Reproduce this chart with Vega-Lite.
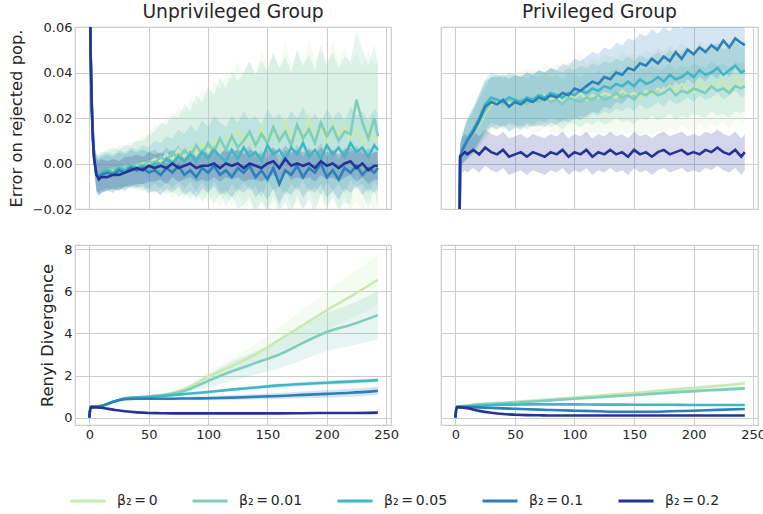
{
"$schema": "https://vega.github.io/schema/vega-lite/v6.json",
"background": "white",
"padding": {"left": 7, "top": 2, "right": 0, "bottom": 0},
"columns": 2,
"spacing": {"row": 36, "column": 50},
"bounds": "flush",
"resolve": {"scale": {"color": "shared", "x": "independent", "y": "independent"}, "legend": {"color": "shared"}},
"datasets": {
"ue": [
{"b":0,"t":0,"y":0.12,"l":0.116,"h":0.124},{"b":0,"t":1,"y":0.05,"l":0.046,"h":0.054},{"b":0,"t":2,"y":0.026,"l":0.022,"h":0.030},{"b":0,"t":3,"y":0.012,"l":0.008,"h":0.016},{"b":0,"t":4,"y":0.003,"l":-0.002,"h":0.008},{"b":0,"t":6,"y":-0.004,"l":-0.012,"h":0.004},{"b":0,"t":8,"y":-0.005,"l":-0.013,"h":0.004},{"b":0,"t":10,"y":-0.004,"l":-0.012,"h":0.005},{"b":0,"t":15,"y":-0.004,"l":-0.012,"h":0.005},{"b":0,"t":20,"y":-0.003,"l":-0.012,"h":0.006},{"b":0,"t":25,"y":-0.002,"l":-0.011,"h":0.008},{"b":0,"t":30,"y":-0.002,"l":-0.011,"h":0.008},{"b":0,"t":35,"y":-0.001,"l":-0.011,"h":0.009},{"b":0,"t":40,"y":-0.001,"l":-0.012,"h":0.010},{"b":0,"t":45,"y":0.000,"l":-0.012,"h":0.012},{"b":0,"t":50,"y":0.000,"l":-0.013,"h":0.013},{"b":0,"t":55,"y":0.002,"l":-0.012,"h":0.017},{"b":0,"t":60,"y":0.001,"l":-0.014,"h":0.016},{"b":0,"t":65,"y":0.004,"l":-0.012,"h":0.021},{"b":0,"t":70,"y":0.002,"l":-0.015,"h":0.019},{"b":0,"t":75,"y":0.006,"l":-0.012,"h":0.025},{"b":0,"t":80,"y":0.003,"l":-0.016,"h":0.023},{"b":0,"t":85,"y":0.007,"l":-0.013,"h":0.029},{"b":0,"t":90,"y":0.004,"l":-0.017,"h":0.026},{"b":0,"t":95,"y":0.009,"l":-0.013,"h":0.033},{"b":0,"t":100,"y":0.005,"l":-0.018,"h":0.030},{"b":0,"t":105,"y":0.010,"l":-0.014,"h":0.036},{"b":0,"t":110,"y":0.006,"l":-0.019,"h":0.033},{"b":0,"t":115,"y":0.012,"l":-0.014,"h":0.040},{"b":0,"t":120,"y":0.008,"l":-0.019,"h":0.037},{"b":0,"t":125,"y":0.015,"l":-0.013,"h":0.045},{"b":0,"t":130,"y":0.009,"l":-0.020,"h":0.040},{"b":0,"t":135,"y":0.013,"l":-0.017,"h":0.045},{"b":0,"t":140,"y":0.007,"l":-0.023,"h":0.039},{"b":0,"t":145,"y":0.016,"l":-0.015,"h":0.050},{"b":0,"t":150,"y":0.010,"l":-0.021,"h":0.043},{"b":0,"t":155,"y":0.014,"l":-0.017,"h":0.047},{"b":0,"t":160,"y":0.009,"l":-0.022,"h":0.042},{"b":0,"t":165,"y":0.019,"l":-0.012,"h":0.053},{"b":0,"t":170,"y":0.011,"l":-0.020,"h":0.044},{"b":0,"t":175,"y":0.015,"l":-0.016,"h":0.049},{"b":0,"t":180,"y":0.010,"l":-0.021,"h":0.043},{"b":0,"t":185,"y":0.020,"l":-0.011,"h":0.055},{"b":0,"t":190,"y":0.012,"l":-0.019,"h":0.045},{"b":0,"t":195,"y":0.016,"l":-0.015,"h":0.050},{"b":0,"t":200,"y":0.009,"l":-0.022,"h":0.042},{"b":0,"t":205,"y":0.019,"l":-0.012,"h":0.054},{"b":0,"t":210,"y":0.011,"l":-0.020,"h":0.044},{"b":0,"t":215,"y":0.017,"l":-0.014,"h":0.051},{"b":0,"t":220,"y":0.010,"l":-0.021,"h":0.043},{"b":0,"t":225,"y":0.015,"l":-0.016,"h":0.049},{"b":0,"t":230,"y":0.009,"l":-0.022,"h":0.042},{"b":0,"t":235,"y":0.016,"l":-0.015,"h":0.050},{"b":0,"t":240,"y":0.010,"l":-0.021,"h":0.043},{"b":0,"t":243,"y":0.012,"l":-0.019,"h":0.045},
{"b":0.01,"t":0,"y":0.12,"l":0.116,"h":0.124},{"b":0.01,"t":1,"y":0.05,"l":0.046,"h":0.054},{"b":0.01,"t":2,"y":0.026,"l":0.022,"h":0.030},{"b":0.01,"t":3,"y":0.012,"l":0.008,"h":0.016},{"b":0.01,"t":4,"y":0.003,"l":-0.002,"h":0.008},{"b":0.01,"t":6,"y":-0.004,"l":-0.012,"h":0.004},{"b":0.01,"t":8,"y":-0.005,"l":-0.013,"h":0.004},{"b":0.01,"t":10,"y":-0.004,"l":-0.012,"h":0.005},{"b":0.01,"t":15,"y":-0.003,"l":-0.011,"h":0.006},{"b":0.01,"t":20,"y":-0.002,"l":-0.011,"h":0.007},{"b":0.01,"t":25,"y":-0.003,"l":-0.012,"h":0.006},{"b":0.01,"t":30,"y":-0.001,"l":-0.010,"h":0.008},{"b":0.01,"t":35,"y":-0.002,"l":-0.011,"h":0.008},{"b":0.01,"t":40,"y":0.000,"l":-0.010,"h":0.010},{"b":0.01,"t":45,"y":-0.001,"l":-0.012,"h":0.010},{"b":0.01,"t":50,"y":0.001,"l":-0.011,"h":0.013},{"b":0.01,"t":55,"y":0.000,"l":-0.013,"h":0.014},{"b":0.01,"t":60,"y":0.003,"l":-0.011,"h":0.018},{"b":0.01,"t":65,"y":0.001,"l":-0.014,"h":0.017},{"b":0.01,"t":70,"y":0.005,"l":-0.011,"h":0.022},{"b":0.01,"t":75,"y":0.002,"l":-0.015,"h":0.020},{"b":0.01,"t":80,"y":0.006,"l":-0.012,"h":0.026},{"b":0.01,"t":85,"y":0.003,"l":-0.016,"h":0.023},{"b":0.01,"t":90,"y":0.008,"l":-0.012,"h":0.030},{"b":0.01,"t":95,"y":0.004,"l":-0.017,"h":0.027},{"b":0.01,"t":100,"y":0.009,"l":-0.013,"h":0.034},{"b":0.01,"t":105,"y":0.005,"l":-0.018,"h":0.030},{"b":0.01,"t":110,"y":0.011,"l":-0.013,"h":0.038},{"b":0.01,"t":115,"y":0.006,"l":-0.019,"h":0.033},{"b":0.01,"t":120,"y":0.012,"l":-0.014,"h":0.041},{"b":0.01,"t":125,"y":0.007,"l":-0.020,"h":0.036},{"b":0.01,"t":130,"y":0.010,"l":-0.018,"h":0.040},{"b":0.01,"t":135,"y":0.014,"l":-0.015,"h":0.045},{"b":0.01,"t":140,"y":0.008,"l":-0.021,"h":0.039},{"b":0.01,"t":145,"y":0.013,"l":-0.017,"h":0.045},{"b":0.01,"t":150,"y":0.009,"l":-0.021,"h":0.041},{"b":0.01,"t":155,"y":0.016,"l":-0.014,"h":0.049},{"b":0.01,"t":160,"y":0.010,"l":-0.021,"h":0.042},{"b":0.01,"t":165,"y":0.014,"l":-0.017,"h":0.047},{"b":0.01,"t":170,"y":0.008,"l":-0.023,"h":0.040},{"b":0.01,"t":175,"y":0.017,"l":-0.014,"h":0.050},{"b":0.01,"t":180,"y":0.011,"l":-0.020,"h":0.043},{"b":0.01,"t":185,"y":0.015,"l":-0.016,"h":0.048},{"b":0.01,"t":190,"y":0.009,"l":-0.022,"h":0.041},{"b":0.01,"t":195,"y":0.018,"l":-0.013,"h":0.052},{"b":0.01,"t":200,"y":0.012,"l":-0.019,"h":0.044},{"b":0.01,"t":205,"y":0.016,"l":-0.015,"h":0.049},{"b":0.01,"t":210,"y":0.010,"l":-0.021,"h":0.042},{"b":0.01,"t":215,"y":0.014,"l":-0.017,"h":0.047},{"b":0.01,"t":220,"y":0.013,"l":-0.018,"h":0.045},{"b":0.01,"t":225,"y":0.028,"l":-0.003,"h":0.058},{"b":0.01,"t":230,"y":0.018,"l":-0.013,"h":0.050},{"b":0.01,"t":235,"y":0.011,"l":-0.020,"h":0.043},{"b":0.01,"t":240,"y":0.020,"l":-0.011,"h":0.052},{"b":0.01,"t":243,"y":0.012,"l":-0.019,"h":0.044},
{"b":0.05,"t":0,"y":0.12,"l":0.116,"h":0.124},{"b":0.05,"t":1,"y":0.05,"l":0.046,"h":0.054},{"b":0.05,"t":2,"y":0.026,"l":0.022,"h":0.030},{"b":0.05,"t":3,"y":0.012,"l":0.008,"h":0.016},{"b":0.05,"t":4,"y":0.003,"l":-0.002,"h":0.008},{"b":0.05,"t":6,"y":-0.004,"l":-0.012,"h":0.004},{"b":0.05,"t":8,"y":-0.005,"l":-0.013,"h":0.003},{"b":0.05,"t":10,"y":-0.004,"l":-0.012,"h":0.004},{"b":0.05,"t":15,"y":-0.003,"l":-0.011,"h":0.005},{"b":0.05,"t":20,"y":-0.004,"l":-0.012,"h":0.004},{"b":0.05,"t":25,"y":-0.002,"l":-0.010,"h":0.006},{"b":0.05,"t":30,"y":-0.003,"l":-0.011,"h":0.005},{"b":0.05,"t":35,"y":-0.001,"l":-0.009,"h":0.007},{"b":0.05,"t":40,"y":-0.002,"l":-0.010,"h":0.006},{"b":0.05,"t":45,"y":-0.001,"l":-0.009,"h":0.008},{"b":0.05,"t":50,"y":-0.002,"l":-0.011,"h":0.007},{"b":0.05,"t":55,"y":0.000,"l":-0.009,"h":0.010},{"b":0.05,"t":60,"y":-0.001,"l":-0.011,"h":0.009},{"b":0.05,"t":65,"y":0.002,"l":-0.008,"h":0.012},{"b":0.05,"t":70,"y":0.000,"l":-0.011,"h":0.011},{"b":0.05,"t":75,"y":0.003,"l":-0.008,"h":0.015},{"b":0.05,"t":80,"y":0.001,"l":-0.011,"h":0.013},{"b":0.05,"t":85,"y":0.004,"l":-0.008,"h":0.017},{"b":0.05,"t":90,"y":0.001,"l":-0.012,"h":0.014},{"b":0.05,"t":95,"y":0.005,"l":-0.008,"h":0.019},{"b":0.05,"t":100,"y":0.002,"l":-0.012,"h":0.016},{"b":0.05,"t":105,"y":0.006,"l":-0.008,"h":0.021},{"b":0.05,"t":110,"y":0.003,"l":-0.012,"h":0.018},{"b":0.05,"t":115,"y":0.001,"l":-0.014,"h":0.016},{"b":0.05,"t":120,"y":0.006,"l":-0.009,"h":0.021},{"b":0.05,"t":125,"y":0.002,"l":-0.013,"h":0.018},{"b":0.05,"t":130,"y":0.007,"l":-0.008,"h":0.023},{"b":0.05,"t":135,"y":0.003,"l":-0.012,"h":0.019},{"b":0.05,"t":140,"y":0.005,"l":-0.010,"h":0.021},{"b":0.05,"t":145,"y":0.001,"l":-0.015,"h":0.017},{"b":0.05,"t":150,"y":0.008,"l":-0.008,"h":0.024},{"b":0.05,"t":155,"y":0.004,"l":-0.012,"h":0.020},{"b":0.05,"t":160,"y":0.006,"l":-0.010,"h":0.022},{"b":0.05,"t":165,"y":0.002,"l":-0.014,"h":0.018},{"b":0.05,"t":170,"y":0.007,"l":-0.009,"h":0.023},{"b":0.05,"t":175,"y":0.004,"l":-0.012,"h":0.020},{"b":0.05,"t":180,"y":0.009,"l":-0.007,"h":0.025},{"b":0.05,"t":185,"y":0.003,"l":-0.013,"h":0.019},{"b":0.05,"t":190,"y":0.006,"l":-0.010,"h":0.022},{"b":0.05,"t":195,"y":0.002,"l":-0.014,"h":0.018},{"b":0.05,"t":200,"y":0.008,"l":-0.008,"h":0.024},{"b":0.05,"t":205,"y":0.004,"l":-0.012,"h":0.020},{"b":0.05,"t":210,"y":0.007,"l":-0.009,"h":0.023},{"b":0.05,"t":215,"y":0.003,"l":-0.013,"h":0.019},{"b":0.05,"t":220,"y":0.009,"l":-0.007,"h":0.025},{"b":0.05,"t":225,"y":0.005,"l":-0.011,"h":0.021},{"b":0.05,"t":230,"y":0.007,"l":-0.009,"h":0.023},{"b":0.05,"t":235,"y":0.003,"l":-0.013,"h":0.019},{"b":0.05,"t":240,"y":0.008,"l":-0.008,"h":0.024},{"b":0.05,"t":243,"y":0.006,"l":-0.010,"h":0.022},
{"b":0.1,"t":0,"y":0.12,"l":0.116,"h":0.124},{"b":0.1,"t":1,"y":0.05,"l":0.046,"h":0.054},{"b":0.1,"t":2,"y":0.026,"l":0.022,"h":0.030},{"b":0.1,"t":3,"y":0.012,"l":0.008,"h":0.016},{"b":0.1,"t":4,"y":0.003,"l":-0.002,"h":0.008},{"b":0.1,"t":6,"y":-0.005,"l":-0.013,"h":0.003},{"b":0.1,"t":8,"y":-0.006,"l":-0.014,"h":0.002},{"b":0.1,"t":10,"y":-0.005,"l":-0.013,"h":0.003},{"b":0.1,"t":15,"y":-0.004,"l":-0.012,"h":0.004},{"b":0.1,"t":20,"y":-0.005,"l":-0.013,"h":0.003},{"b":0.1,"t":25,"y":-0.003,"l":-0.011,"h":0.005},{"b":0.1,"t":30,"y":-0.004,"l":-0.012,"h":0.004},{"b":0.1,"t":35,"y":-0.002,"l":-0.010,"h":0.006},{"b":0.1,"t":40,"y":-0.003,"l":-0.011,"h":0.005},{"b":0.1,"t":45,"y":-0.002,"l":-0.010,"h":0.006},{"b":0.1,"t":50,"y":-0.004,"l":-0.013,"h":0.005},{"b":0.1,"t":55,"y":-0.003,"l":-0.012,"h":0.006},{"b":0.1,"t":60,"y":-0.005,"l":-0.014,"h":0.004},{"b":0.1,"t":65,"y":-0.002,"l":-0.011,"h":0.007},{"b":0.1,"t":70,"y":-0.004,"l":-0.013,"h":0.005},{"b":0.1,"t":75,"y":-0.001,"l":-0.010,"h":0.008},{"b":0.1,"t":80,"y":-0.005,"l":-0.014,"h":0.004},{"b":0.1,"t":85,"y":-0.003,"l":-0.012,"h":0.006},{"b":0.1,"t":90,"y":-0.006,"l":-0.015,"h":0.003},{"b":0.1,"t":95,"y":-0.002,"l":-0.011,"h":0.007},{"b":0.1,"t":100,"y":-0.004,"l":-0.013,"h":0.005},{"b":0.1,"t":105,"y":-0.001,"l":-0.010,"h":0.008},{"b":0.1,"t":110,"y":-0.005,"l":-0.014,"h":0.004},{"b":0.1,"t":115,"y":-0.003,"l":-0.012,"h":0.006},{"b":0.1,"t":120,"y":-0.006,"l":-0.015,"h":0.003},{"b":0.1,"t":125,"y":-0.002,"l":-0.011,"h":0.007},{"b":0.1,"t":130,"y":-0.004,"l":-0.013,"h":0.005},{"b":0.1,"t":135,"y":-0.001,"l":-0.010,"h":0.008},{"b":0.1,"t":140,"y":-0.006,"l":-0.015,"h":0.003},{"b":0.1,"t":145,"y":-0.003,"l":-0.012,"h":0.006},{"b":0.1,"t":150,"y":-0.007,"l":-0.016,"h":0.002},{"b":0.1,"t":155,"y":-0.002,"l":-0.011,"h":0.007},{"b":0.1,"t":160,"y":-0.009,"l":-0.018,"h":0.000},{"b":0.1,"t":165,"y":-0.003,"l":-0.012,"h":0.006},{"b":0.1,"t":170,"y":-0.005,"l":-0.014,"h":0.004},{"b":0.1,"t":175,"y":-0.001,"l":-0.010,"h":0.008},{"b":0.1,"t":180,"y":-0.006,"l":-0.015,"h":0.003},{"b":0.1,"t":185,"y":-0.002,"l":-0.011,"h":0.007},{"b":0.1,"t":190,"y":-0.004,"l":-0.013,"h":0.005},{"b":0.1,"t":195,"y":0.000,"l":-0.009,"h":0.009},{"b":0.1,"t":200,"y":-0.006,"l":-0.015,"h":0.003},{"b":0.1,"t":205,"y":-0.003,"l":-0.012,"h":0.006},{"b":0.1,"t":210,"y":-0.007,"l":-0.016,"h":0.002},{"b":0.1,"t":215,"y":-0.002,"l":-0.011,"h":0.007},{"b":0.1,"t":220,"y":-0.004,"l":-0.013,"h":0.005},{"b":0.1,"t":225,"y":-0.001,"l":-0.010,"h":0.008},{"b":0.1,"t":230,"y":-0.005,"l":-0.014,"h":0.004},{"b":0.1,"t":235,"y":-0.002,"l":-0.011,"h":0.007},{"b":0.1,"t":240,"y":-0.004,"l":-0.013,"h":0.005},{"b":0.1,"t":243,"y":-0.002,"l":-0.011,"h":0.007},
{"b":0.2,"t":0,"y":0.12,"l":0.116,"h":0.124},{"b":0.2,"t":1,"y":0.05,"l":0.046,"h":0.054},{"b":0.2,"t":2,"y":0.025,"l":0.021,"h":0.029},{"b":0.2,"t":3,"y":0.010,"l":0.006,"h":0.014},{"b":0.2,"t":4,"y":0.002,"l":-0.003,"h":0.007},{"b":0.2,"t":6,"y":-0.005,"l":-0.012,"h":0.002},{"b":0.2,"t":8,"y":-0.007,"l":-0.014,"h":0.001},{"b":0.2,"t":10,"y":-0.006,"l":-0.013,"h":0.002},{"b":0.2,"t":15,"y":-0.006,"l":-0.012,"h":0.001},{"b":0.2,"t":20,"y":-0.005,"l":-0.011,"h":0.002},{"b":0.2,"t":25,"y":-0.005,"l":-0.012,"h":0.001},{"b":0.2,"t":30,"y":-0.004,"l":-0.010,"h":0.003},{"b":0.2,"t":35,"y":-0.003,"l":-0.010,"h":0.003},{"b":0.2,"t":40,"y":-0.002,"l":-0.009,"h":0.004},{"b":0.2,"t":45,"y":-0.003,"l":-0.009,"h":0.003},{"b":0.2,"t":50,"y":-0.001,"l":-0.008,"h":0.005},{"b":0.2,"t":55,"y":-0.002,"l":-0.008,"h":0.004},{"b":0.2,"t":60,"y":-0.001,"l":-0.007,"h":0.005},{"b":0.2,"t":65,"y":-0.002,"l":-0.009,"h":0.004},{"b":0.2,"t":70,"y":0.000,"l":-0.006,"h":0.006},{"b":0.2,"t":75,"y":-0.002,"l":-0.008,"h":0.004},{"b":0.2,"t":80,"y":-0.001,"l":-0.007,"h":0.006},{"b":0.2,"t":85,"y":0.000,"l":-0.006,"h":0.006},{"b":0.2,"t":90,"y":-0.002,"l":-0.008,"h":0.004},{"b":0.2,"t":95,"y":-0.001,"l":-0.007,"h":0.005},{"b":0.2,"t":100,"y":-0.001,"l":-0.008,"h":0.005},{"b":0.2,"t":105,"y":0.000,"l":-0.006,"h":0.006},{"b":0.2,"t":110,"y":-0.002,"l":-0.008,"h":0.004},{"b":0.2,"t":115,"y":0.000,"l":-0.006,"h":0.007},{"b":0.2,"t":120,"y":-0.001,"l":-0.007,"h":0.005},{"b":0.2,"t":125,"y":0.000,"l":-0.006,"h":0.006},{"b":0.2,"t":130,"y":-0.002,"l":-0.008,"h":0.004},{"b":0.2,"t":135,"y":0.000,"l":-0.007,"h":0.006},{"b":0.2,"t":140,"y":-0.001,"l":-0.007,"h":0.005},{"b":0.2,"t":145,"y":-0.002,"l":-0.008,"h":0.004},{"b":0.2,"t":150,"y":0.000,"l":-0.006,"h":0.006},{"b":0.2,"t":155,"y":0.001,"l":-0.005,"h":0.007},{"b":0.2,"t":160,"y":-0.002,"l":-0.008,"h":0.004},{"b":0.2,"t":165,"y":0.002,"l":-0.004,"h":0.008},{"b":0.2,"t":170,"y":-0.001,"l":-0.007,"h":0.005},{"b":0.2,"t":175,"y":0.000,"l":-0.006,"h":0.006},{"b":0.2,"t":180,"y":-0.001,"l":-0.007,"h":0.005},{"b":0.2,"t":185,"y":0.000,"l":-0.006,"h":0.006},{"b":0.2,"t":190,"y":-0.002,"l":-0.008,"h":0.004},{"b":0.2,"t":195,"y":0.001,"l":-0.005,"h":0.007},{"b":0.2,"t":200,"y":-0.001,"l":-0.007,"h":0.005},{"b":0.2,"t":205,"y":0.000,"l":-0.006,"h":0.006},{"b":0.2,"t":210,"y":-0.002,"l":-0.008,"h":0.004},{"b":0.2,"t":215,"y":0.000,"l":-0.006,"h":0.006},{"b":0.2,"t":220,"y":0.001,"l":-0.005,"h":0.007},{"b":0.2,"t":225,"y":-0.002,"l":-0.008,"h":0.004},{"b":0.2,"t":230,"y":0.000,"l":-0.006,"h":0.006},{"b":0.2,"t":235,"y":-0.003,"l":-0.009,"h":0.003},{"b":0.2,"t":240,"y":-0.001,"l":-0.007,"h":0.005},{"b":0.2,"t":243,"y":-0.001,"l":-0.007,"h":0.005}
],
"pe": [
{"b":0,"t":3,"y":-0.05,"l":-0.05,"h":-0.05},{"b":0,"t":4,"y":0.003,"l":-0.002,"h":0.008},{"b":0,"t":6,"y":0.006,"l":0.000,"h":0.013},{"b":0,"t":8,"y":0.008,"l":0.001,"h":0.016},{"b":0,"t":10,"y":0.010,"l":0.002,"h":0.019},{"b":0,"t":15,"y":0.013,"l":0.004,"h":0.023},{"b":0,"t":20,"y":0.017,"l":0.007,"h":0.028},{"b":0,"t":25,"y":0.022,"l":0.011,"h":0.033},{"b":0,"t":30,"y":0.026,"l":0.014,"h":0.038},{"b":0,"t":35,"y":0.027,"l":0.015,"h":0.039},{"b":0,"t":40,"y":0.028,"l":0.016,"h":0.040},{"b":0,"t":45,"y":0.026,"l":0.014,"h":0.038},{"b":0,"t":50,"y":0.028,"l":0.015,"h":0.041},{"b":0,"t":55,"y":0.027,"l":0.014,"h":0.040},{"b":0,"t":60,"y":0.029,"l":0.016,"h":0.042},{"b":0,"t":65,"y":0.027,"l":0.013,"h":0.041},{"b":0,"t":70,"y":0.028,"l":0.014,"h":0.042},{"b":0,"t":75,"y":0.030,"l":0.016,"h":0.044},{"b":0,"t":80,"y":0.028,"l":0.014,"h":0.042},{"b":0,"t":85,"y":0.029,"l":0.014,"h":0.044},{"b":0,"t":90,"y":0.027,"l":0.012,"h":0.042},{"b":0,"t":95,"y":0.030,"l":0.015,"h":0.045},{"b":0,"t":100,"y":0.029,"l":0.014,"h":0.044},{"b":0,"t":105,"y":0.031,"l":0.015,"h":0.047},{"b":0,"t":110,"y":0.028,"l":0.012,"h":0.044},{"b":0,"t":115,"y":0.030,"l":0.014,"h":0.046},{"b":0,"t":120,"y":0.029,"l":0.013,"h":0.045},{"b":0,"t":125,"y":0.031,"l":0.014,"h":0.048},{"b":0,"t":130,"y":0.030,"l":0.013,"h":0.047},{"b":0,"t":135,"y":0.029,"l":0.012,"h":0.046},{"b":0,"t":140,"y":0.032,"l":0.015,"h":0.049},{"b":0,"t":145,"y":0.030,"l":0.013,"h":0.047},{"b":0,"t":150,"y":0.031,"l":0.014,"h":0.048},{"b":0,"t":155,"y":0.029,"l":0.012,"h":0.046},{"b":0,"t":160,"y":0.032,"l":0.014,"h":0.050},{"b":0,"t":165,"y":0.030,"l":0.012,"h":0.048},{"b":0,"t":170,"y":0.033,"l":0.015,"h":0.051},{"b":0,"t":175,"y":0.031,"l":0.013,"h":0.049},{"b":0,"t":180,"y":0.034,"l":0.016,"h":0.052},{"b":0,"t":185,"y":0.032,"l":0.014,"h":0.050},{"b":0,"t":190,"y":0.035,"l":0.017,"h":0.053},{"b":0,"t":195,"y":0.033,"l":0.015,"h":0.051},{"b":0,"t":200,"y":0.031,"l":0.013,"h":0.049},{"b":0,"t":205,"y":0.036,"l":0.018,"h":0.054},{"b":0,"t":210,"y":0.033,"l":0.015,"h":0.051},{"b":0,"t":215,"y":0.035,"l":0.017,"h":0.053},{"b":0,"t":220,"y":0.034,"l":0.016,"h":0.052},{"b":0,"t":225,"y":0.037,"l":0.019,"h":0.055},{"b":0,"t":230,"y":0.033,"l":0.015,"h":0.051},{"b":0,"t":235,"y":0.038,"l":0.020,"h":0.056},{"b":0,"t":240,"y":0.035,"l":0.017,"h":0.053},{"b":0,"t":243,"y":0.036,"l":0.018,"h":0.054},
{"b":0.01,"t":3,"y":-0.05,"l":-0.05,"h":-0.05},{"b":0.01,"t":4,"y":0.003,"l":-0.002,"h":0.008},{"b":0.01,"t":6,"y":0.006,"l":0.000,"h":0.013},{"b":0.01,"t":8,"y":0.008,"l":0.001,"h":0.016},{"b":0.01,"t":10,"y":0.010,"l":0.002,"h":0.019},{"b":0.01,"t":15,"y":0.013,"l":0.004,"h":0.023},{"b":0.01,"t":20,"y":0.018,"l":0.008,"h":0.029},{"b":0.01,"t":25,"y":0.023,"l":0.012,"h":0.034},{"b":0.01,"t":30,"y":0.027,"l":0.016,"h":0.038},{"b":0.01,"t":35,"y":0.028,"l":0.017,"h":0.039},{"b":0.01,"t":40,"y":0.026,"l":0.015,"h":0.037},{"b":0.01,"t":45,"y":0.028,"l":0.017,"h":0.039},{"b":0.01,"t":50,"y":0.027,"l":0.016,"h":0.038},{"b":0.01,"t":55,"y":0.028,"l":0.017,"h":0.039},{"b":0.01,"t":60,"y":0.026,"l":0.015,"h":0.037},{"b":0.01,"t":65,"y":0.028,"l":0.017,"h":0.039},{"b":0.01,"t":70,"y":0.027,"l":0.016,"h":0.038},{"b":0.01,"t":75,"y":0.029,"l":0.018,"h":0.040},{"b":0.01,"t":80,"y":0.027,"l":0.016,"h":0.038},{"b":0.01,"t":85,"y":0.028,"l":0.017,"h":0.039},{"b":0.01,"t":90,"y":0.026,"l":0.015,"h":0.037},{"b":0.01,"t":95,"y":0.029,"l":0.018,"h":0.040},{"b":0.01,"t":100,"y":0.028,"l":0.017,"h":0.039},{"b":0.01,"t":105,"y":0.027,"l":0.016,"h":0.038},{"b":0.01,"t":110,"y":0.029,"l":0.018,"h":0.040},{"b":0.01,"t":115,"y":0.028,"l":0.017,"h":0.039},{"b":0.01,"t":120,"y":0.030,"l":0.019,"h":0.041},{"b":0.01,"t":125,"y":0.028,"l":0.017,"h":0.039},{"b":0.01,"t":130,"y":0.029,"l":0.018,"h":0.040},{"b":0.01,"t":135,"y":0.031,"l":0.020,"h":0.042},{"b":0.01,"t":140,"y":0.029,"l":0.018,"h":0.040},{"b":0.01,"t":145,"y":0.030,"l":0.019,"h":0.041},{"b":0.01,"t":150,"y":0.028,"l":0.017,"h":0.039},{"b":0.01,"t":155,"y":0.031,"l":0.020,"h":0.042},{"b":0.01,"t":160,"y":0.030,"l":0.019,"h":0.041},{"b":0.01,"t":165,"y":0.032,"l":0.021,"h":0.043},{"b":0.01,"t":170,"y":0.030,"l":0.019,"h":0.041},{"b":0.01,"t":175,"y":0.031,"l":0.020,"h":0.042},{"b":0.01,"t":180,"y":0.033,"l":0.022,"h":0.044},{"b":0.01,"t":185,"y":0.030,"l":0.019,"h":0.041},{"b":0.01,"t":190,"y":0.032,"l":0.021,"h":0.043},{"b":0.01,"t":195,"y":0.031,"l":0.020,"h":0.042},{"b":0.01,"t":200,"y":0.033,"l":0.022,"h":0.044},{"b":0.01,"t":205,"y":0.032,"l":0.021,"h":0.043},{"b":0.01,"t":210,"y":0.031,"l":0.020,"h":0.042},{"b":0.01,"t":215,"y":0.034,"l":0.023,"h":0.045},{"b":0.01,"t":220,"y":0.032,"l":0.021,"h":0.043},{"b":0.01,"t":225,"y":0.033,"l":0.022,"h":0.044},{"b":0.01,"t":230,"y":0.031,"l":0.020,"h":0.042},{"b":0.01,"t":235,"y":0.034,"l":0.023,"h":0.045},{"b":0.01,"t":240,"y":0.033,"l":0.022,"h":0.044},{"b":0.01,"t":243,"y":0.034,"l":0.023,"h":0.045},
{"b":0.05,"t":3,"y":-0.05,"l":-0.05,"h":-0.05},{"b":0.05,"t":4,"y":0.003,"l":-0.002,"h":0.008},{"b":0.05,"t":6,"y":0.006,"l":0.000,"h":0.013},{"b":0.05,"t":8,"y":0.009,"l":0.002,"h":0.017},{"b":0.05,"t":10,"y":0.011,"l":0.003,"h":0.020},{"b":0.05,"t":15,"y":0.015,"l":0.006,"h":0.025},{"b":0.05,"t":20,"y":0.020,"l":0.010,"h":0.031},{"b":0.05,"t":25,"y":0.026,"l":0.015,"h":0.037},{"b":0.05,"t":30,"y":0.029,"l":0.018,"h":0.040},{"b":0.05,"t":35,"y":0.028,"l":0.017,"h":0.039},{"b":0.05,"t":40,"y":0.027,"l":0.016,"h":0.038},{"b":0.05,"t":45,"y":0.029,"l":0.018,"h":0.040},{"b":0.05,"t":50,"y":0.028,"l":0.017,"h":0.039},{"b":0.05,"t":55,"y":0.027,"l":0.016,"h":0.038},{"b":0.05,"t":60,"y":0.029,"l":0.018,"h":0.040},{"b":0.05,"t":65,"y":0.028,"l":0.017,"h":0.039},{"b":0.05,"t":70,"y":0.030,"l":0.019,"h":0.041},{"b":0.05,"t":75,"y":0.029,"l":0.018,"h":0.040},{"b":0.05,"t":80,"y":0.031,"l":0.020,"h":0.042},{"b":0.05,"t":85,"y":0.030,"l":0.019,"h":0.041},{"b":0.05,"t":90,"y":0.029,"l":0.018,"h":0.040},{"b":0.05,"t":95,"y":0.031,"l":0.020,"h":0.042},{"b":0.05,"t":100,"y":0.030,"l":0.019,"h":0.041},{"b":0.05,"t":105,"y":0.032,"l":0.021,"h":0.043},{"b":0.05,"t":110,"y":0.031,"l":0.020,"h":0.042},{"b":0.05,"t":115,"y":0.033,"l":0.022,"h":0.044},{"b":0.05,"t":120,"y":0.032,"l":0.021,"h":0.043},{"b":0.05,"t":125,"y":0.034,"l":0.023,"h":0.045},{"b":0.05,"t":130,"y":0.033,"l":0.022,"h":0.044},{"b":0.05,"t":135,"y":0.035,"l":0.024,"h":0.046},{"b":0.05,"t":140,"y":0.034,"l":0.023,"h":0.045},{"b":0.05,"t":145,"y":0.036,"l":0.025,"h":0.047},{"b":0.05,"t":150,"y":0.034,"l":0.023,"h":0.045},{"b":0.05,"t":155,"y":0.037,"l":0.026,"h":0.048},{"b":0.05,"t":160,"y":0.035,"l":0.024,"h":0.046},{"b":0.05,"t":165,"y":0.036,"l":0.025,"h":0.047},{"b":0.05,"t":170,"y":0.038,"l":0.027,"h":0.049},{"b":0.05,"t":175,"y":0.036,"l":0.025,"h":0.047},{"b":0.05,"t":180,"y":0.039,"l":0.028,"h":0.050},{"b":0.05,"t":185,"y":0.037,"l":0.026,"h":0.048},{"b":0.05,"t":190,"y":0.038,"l":0.027,"h":0.049},{"b":0.05,"t":195,"y":0.040,"l":0.029,"h":0.051},{"b":0.05,"t":200,"y":0.038,"l":0.027,"h":0.049},{"b":0.05,"t":205,"y":0.041,"l":0.030,"h":0.052},{"b":0.05,"t":210,"y":0.039,"l":0.028,"h":0.050},{"b":0.05,"t":215,"y":0.040,"l":0.029,"h":0.051},{"b":0.05,"t":220,"y":0.042,"l":0.031,"h":0.053},{"b":0.05,"t":225,"y":0.039,"l":0.028,"h":0.050},{"b":0.05,"t":230,"y":0.041,"l":0.030,"h":0.052},{"b":0.05,"t":235,"y":0.043,"l":0.032,"h":0.054},{"b":0.05,"t":240,"y":0.040,"l":0.029,"h":0.051},{"b":0.05,"t":243,"y":0.041,"l":0.030,"h":0.052},
{"b":0.1,"t":3,"y":-0.05,"l":-0.05,"h":-0.05},{"b":0.1,"t":4,"y":0.003,"l":-0.002,"h":0.008},{"b":0.1,"t":6,"y":0.006,"l":0.000,"h":0.013},{"b":0.1,"t":8,"y":0.008,"l":0.001,"h":0.016},{"b":0.1,"t":10,"y":0.010,"l":0.002,"h":0.019},{"b":0.1,"t":15,"y":0.014,"l":0.005,"h":0.024},{"b":0.1,"t":20,"y":0.019,"l":0.009,"h":0.030},{"b":0.1,"t":25,"y":0.025,"l":0.014,"h":0.036},{"b":0.1,"t":30,"y":0.027,"l":0.016,"h":0.038},{"b":0.1,"t":35,"y":0.026,"l":0.015,"h":0.038},{"b":0.1,"t":40,"y":0.028,"l":0.017,"h":0.039},{"b":0.1,"t":45,"y":0.025,"l":0.014,"h":0.037},{"b":0.1,"t":50,"y":0.027,"l":0.016,"h":0.039},{"b":0.1,"t":55,"y":0.026,"l":0.015,"h":0.038},{"b":0.1,"t":60,"y":0.028,"l":0.017,"h":0.040},{"b":0.1,"t":65,"y":0.027,"l":0.016,"h":0.039},{"b":0.1,"t":70,"y":0.029,"l":0.017,"h":0.041},{"b":0.1,"t":75,"y":0.028,"l":0.016,"h":0.040},{"b":0.1,"t":80,"y":0.030,"l":0.018,"h":0.042},{"b":0.1,"t":85,"y":0.029,"l":0.017,"h":0.041},{"b":0.1,"t":90,"y":0.031,"l":0.019,"h":0.044},{"b":0.1,"t":95,"y":0.030,"l":0.018,"h":0.043},{"b":0.1,"t":100,"y":0.033,"l":0.020,"h":0.046},{"b":0.1,"t":105,"y":0.032,"l":0.019,"h":0.045},{"b":0.1,"t":110,"y":0.034,"l":0.021,"h":0.047},{"b":0.1,"t":115,"y":0.036,"l":0.023,"h":0.049},{"b":0.1,"t":120,"y":0.035,"l":0.022,"h":0.048},{"b":0.1,"t":125,"y":0.038,"l":0.025,"h":0.051},{"b":0.1,"t":130,"y":0.037,"l":0.024,"h":0.050},{"b":0.1,"t":135,"y":0.040,"l":0.027,"h":0.053},{"b":0.1,"t":140,"y":0.039,"l":0.026,"h":0.052},{"b":0.1,"t":145,"y":0.042,"l":0.029,"h":0.055},{"b":0.1,"t":150,"y":0.041,"l":0.028,"h":0.054},{"b":0.1,"t":155,"y":0.044,"l":0.031,"h":0.057},{"b":0.1,"t":160,"y":0.043,"l":0.030,"h":0.056},{"b":0.1,"t":165,"y":0.046,"l":0.033,"h":0.059},{"b":0.1,"t":170,"y":0.044,"l":0.031,"h":0.057},{"b":0.1,"t":175,"y":0.047,"l":0.034,"h":0.060},{"b":0.1,"t":180,"y":0.045,"l":0.032,"h":0.058},{"b":0.1,"t":185,"y":0.049,"l":0.036,"h":0.062},{"b":0.1,"t":190,"y":0.046,"l":0.033,"h":0.059},{"b":0.1,"t":195,"y":0.050,"l":0.037,"h":0.063},{"b":0.1,"t":200,"y":0.048,"l":0.035,"h":0.061},{"b":0.1,"t":205,"y":0.051,"l":0.038,"h":0.064},{"b":0.1,"t":210,"y":0.049,"l":0.036,"h":0.062},{"b":0.1,"t":215,"y":0.052,"l":0.039,"h":0.065},{"b":0.1,"t":220,"y":0.050,"l":0.037,"h":0.063},{"b":0.1,"t":225,"y":0.054,"l":0.041,"h":0.067},{"b":0.1,"t":230,"y":0.051,"l":0.038,"h":0.064},{"b":0.1,"t":235,"y":0.055,"l":0.042,"h":0.068},{"b":0.1,"t":240,"y":0.053,"l":0.040,"h":0.066},{"b":0.1,"t":243,"y":0.052,"l":0.039,"h":0.065},
{"b":0.2,"t":3,"y":-0.05,"l":-0.05,"h":-0.05},{"b":0.2,"t":4,"y":0.003,"l":-0.003,"h":0.009},{"b":0.2,"t":6,"y":0.004,"l":-0.004,"h":0.012},{"b":0.2,"t":8,"y":0.005,"l":-0.003,"h":0.013},{"b":0.2,"t":10,"y":0.004,"l":-0.004,"h":0.012},{"b":0.2,"t":15,"y":0.006,"l":-0.002,"h":0.014},{"b":0.2,"t":20,"y":0.004,"l":-0.004,"h":0.012},{"b":0.2,"t":25,"y":0.007,"l":-0.001,"h":0.015},{"b":0.2,"t":30,"y":0.005,"l":-0.003,"h":0.013},{"b":0.2,"t":35,"y":0.004,"l":-0.004,"h":0.012},{"b":0.2,"t":40,"y":0.006,"l":-0.002,"h":0.014},{"b":0.2,"t":45,"y":0.003,"l":-0.005,"h":0.011},{"b":0.2,"t":50,"y":0.004,"l":-0.004,"h":0.012},{"b":0.2,"t":55,"y":0.005,"l":-0.003,"h":0.013},{"b":0.2,"t":60,"y":0.003,"l":-0.005,"h":0.011},{"b":0.2,"t":65,"y":0.005,"l":-0.003,"h":0.013},{"b":0.2,"t":70,"y":0.004,"l":-0.004,"h":0.012},{"b":0.2,"t":75,"y":0.003,"l":-0.005,"h":0.011},{"b":0.2,"t":80,"y":0.005,"l":-0.003,"h":0.013},{"b":0.2,"t":85,"y":0.004,"l":-0.004,"h":0.012},{"b":0.2,"t":90,"y":0.006,"l":-0.002,"h":0.014},{"b":0.2,"t":95,"y":0.003,"l":-0.005,"h":0.011},{"b":0.2,"t":100,"y":0.005,"l":-0.003,"h":0.013},{"b":0.2,"t":105,"y":0.004,"l":-0.004,"h":0.012},{"b":0.2,"t":110,"y":0.006,"l":-0.002,"h":0.014},{"b":0.2,"t":115,"y":0.003,"l":-0.005,"h":0.011},{"b":0.2,"t":120,"y":0.005,"l":-0.003,"h":0.013},{"b":0.2,"t":125,"y":0.004,"l":-0.004,"h":0.012},{"b":0.2,"t":130,"y":0.006,"l":-0.002,"h":0.014},{"b":0.2,"t":135,"y":0.004,"l":-0.004,"h":0.012},{"b":0.2,"t":140,"y":0.005,"l":-0.003,"h":0.013},{"b":0.2,"t":145,"y":0.003,"l":-0.005,"h":0.011},{"b":0.2,"t":150,"y":0.006,"l":-0.002,"h":0.014},{"b":0.2,"t":155,"y":0.004,"l":-0.004,"h":0.012},{"b":0.2,"t":160,"y":0.005,"l":-0.003,"h":0.013},{"b":0.2,"t":165,"y":0.003,"l":-0.005,"h":0.011},{"b":0.2,"t":170,"y":0.005,"l":-0.003,"h":0.013},{"b":0.2,"t":175,"y":0.006,"l":-0.002,"h":0.014},{"b":0.2,"t":180,"y":0.004,"l":-0.004,"h":0.012},{"b":0.2,"t":185,"y":0.005,"l":-0.003,"h":0.013},{"b":0.2,"t":190,"y":0.006,"l":-0.002,"h":0.014},{"b":0.2,"t":195,"y":0.004,"l":-0.004,"h":0.012},{"b":0.2,"t":200,"y":0.005,"l":-0.003,"h":0.013},{"b":0.2,"t":205,"y":0.004,"l":-0.004,"h":0.012},{"b":0.2,"t":210,"y":0.006,"l":-0.002,"h":0.014},{"b":0.2,"t":215,"y":0.005,"l":-0.003,"h":0.013},{"b":0.2,"t":220,"y":0.007,"l":-0.001,"h":0.015},{"b":0.2,"t":225,"y":0.005,"l":-0.003,"h":0.013},{"b":0.2,"t":230,"y":0.004,"l":-0.004,"h":0.012},{"b":0.2,"t":235,"y":0.006,"l":-0.002,"h":0.014},{"b":0.2,"t":240,"y":0.003,"l":-0.005,"h":0.011},{"b":0.2,"t":243,"y":0.005,"l":-0.003,"h":0.013}
],
"ur": [
{"b":0,"t":0,"y":0,"l":0,"h":0},{"b":0,"t":1,"y":0.5,"l":0.5,"h":0.5},{"b":0,"t":10,"y":0.55,"l":0.53,"h":0.57},{"b":0,"t":20,"y":0.75,"l":0.72,"h":0.78},{"b":0,"t":30,"y":0.92,"l":0.88,"h":0.96},{"b":0,"t":40,"y":0.97,"l":0.93,"h":1.01},{"b":0,"t":50,"y":1.0,"l":0.95,"h":1.05},{"b":0,"t":60,"y":1.07,"l":1.0,"h":1.14},{"b":0,"t":70,"y":1.18,"l":1.09,"h":1.27},{"b":0,"t":80,"y":1.35,"l":1.23,"h":1.47},{"b":0,"t":100,"y":1.94,"l":1.69,"h":2.19},{"b":0,"t":120,"y":2.45,"l":2.1,"h":2.8},{"b":0,"t":140,"y":3.0,"l":2.5,"h":3.5},{"b":0,"t":160,"y":3.7,"l":3.1,"h":4.3},{"b":0,"t":180,"y":4.4,"l":3.65,"h":5.15},{"b":0,"t":200,"y":5.1,"l":4.2,"h":6.0},{"b":0,"t":220,"y":5.75,"l":4.7,"h":6.8},{"b":0,"t":243,"y":6.55,"l":5.35,"h":7.75},
{"b":0.01,"t":0,"y":0,"l":0,"h":0},{"b":0.01,"t":1,"y":0.5,"l":0.5,"h":0.5},{"b":0.01,"t":10,"y":0.55,"l":0.53,"h":0.57},{"b":0.01,"t":20,"y":0.75,"l":0.72,"h":0.78},{"b":0.01,"t":30,"y":0.92,"l":0.88,"h":0.96},{"b":0.01,"t":40,"y":0.97,"l":0.93,"h":1.01},{"b":0.01,"t":50,"y":1.0,"l":0.95,"h":1.05},{"b":0.01,"t":60,"y":1.05,"l":0.99,"h":1.11},{"b":0.01,"t":70,"y":1.13,"l":1.05,"h":1.21},{"b":0.01,"t":80,"y":1.27,"l":1.17,"h":1.37},{"b":0.01,"t":100,"y":1.74,"l":1.44,"h":2.04},{"b":0.01,"t":120,"y":2.2,"l":1.75,"h":2.65},{"b":0.01,"t":140,"y":2.6,"l":2.05,"h":3.15},{"b":0.01,"t":160,"y":3.0,"l":2.35,"h":3.65},{"b":0.01,"t":180,"y":3.55,"l":2.75,"h":4.35},{"b":0.01,"t":200,"y":4.07,"l":3.17,"h":4.97},{"b":0.01,"t":220,"y":4.4,"l":3.4,"h":5.4},{"b":0.01,"t":243,"y":4.87,"l":3.72,"h":6.02},
{"b":0.05,"t":0,"y":0,"l":0,"h":0},{"b":0.05,"t":1,"y":0.5,"l":0.5,"h":0.5},{"b":0.05,"t":10,"y":0.55,"l":0.53,"h":0.57},{"b":0.05,"t":20,"y":0.75,"l":0.72,"h":0.78},{"b":0.05,"t":30,"y":0.9,"l":0.86,"h":0.94},{"b":0.05,"t":40,"y":0.95,"l":0.91,"h":0.99},{"b":0.05,"t":50,"y":0.98,"l":0.93,"h":1.03},{"b":0.05,"t":60,"y":1.02,"l":0.97,"h":1.07},{"b":0.05,"t":70,"y":1.07,"l":1.01,"h":1.13},{"b":0.05,"t":80,"y":1.12,"l":1.06,"h":1.18},{"b":0.05,"t":100,"y":1.22,"l":1.15,"h":1.29},{"b":0.05,"t":120,"y":1.33,"l":1.25,"h":1.41},{"b":0.05,"t":140,"y":1.43,"l":1.34,"h":1.52},{"b":0.05,"t":160,"y":1.53,"l":1.43,"h":1.63},{"b":0.05,"t":180,"y":1.6,"l":1.5,"h":1.7},{"b":0.05,"t":200,"y":1.66,"l":1.55,"h":1.77},{"b":0.05,"t":220,"y":1.71,"l":1.6,"h":1.82},{"b":0.05,"t":243,"y":1.78,"l":1.66,"h":1.9},
{"b":0.1,"t":0,"y":0,"l":0,"h":0},{"b":0.1,"t":1,"y":0.5,"l":0.5,"h":0.5},{"b":0.1,"t":10,"y":0.55,"l":0.53,"h":0.57},{"b":0.1,"t":20,"y":0.75,"l":0.72,"h":0.78},{"b":0.1,"t":30,"y":0.88,"l":0.84,"h":0.92},{"b":0.1,"t":40,"y":0.9,"l":0.85,"h":0.95},{"b":0.1,"t":50,"y":0.9,"l":0.84,"h":0.96},{"b":0.1,"t":60,"y":0.9,"l":0.83,"h":0.97},{"b":0.1,"t":70,"y":0.9,"l":0.82,"h":0.98},{"b":0.1,"t":80,"y":0.91,"l":0.82,"h":1.0},{"b":0.1,"t":100,"y":0.92,"l":0.82,"h":1.02},{"b":0.1,"t":120,"y":0.95,"l":0.83,"h":1.07},{"b":0.1,"t":140,"y":0.99,"l":0.86,"h":1.12},{"b":0.1,"t":160,"y":1.03,"l":0.88,"h":1.18},{"b":0.1,"t":180,"y":1.08,"l":0.92,"h":1.24},{"b":0.1,"t":200,"y":1.13,"l":0.95,"h":1.31},{"b":0.1,"t":220,"y":1.18,"l":0.99,"h":1.37},{"b":0.1,"t":243,"y":1.27,"l":1.07,"h":1.47},
{"b":0.2,"t":0,"y":0,"l":0,"h":0},{"b":0.2,"t":1,"y":0.5,"l":0.5,"h":0.5},{"b":0.2,"t":10,"y":0.47,"l":0.45,"h":0.49},{"b":0.2,"t":20,"y":0.38,"l":0.36,"h":0.4},{"b":0.2,"t":30,"y":0.3,"l":0.28,"h":0.32},{"b":0.2,"t":40,"y":0.25,"l":0.23,"h":0.27},{"b":0.2,"t":50,"y":0.22,"l":0.2,"h":0.24},{"b":0.2,"t":60,"y":0.21,"l":0.19,"h":0.23},{"b":0.2,"t":70,"y":0.2,"l":0.18,"h":0.22},{"b":0.2,"t":80,"y":0.2,"l":0.18,"h":0.22},{"b":0.2,"t":100,"y":0.2,"l":0.18,"h":0.22},{"b":0.2,"t":120,"y":0.2,"l":0.18,"h":0.22},{"b":0.2,"t":140,"y":0.2,"l":0.18,"h":0.22},{"b":0.2,"t":160,"y":0.2,"l":0.18,"h":0.22},{"b":0.2,"t":180,"y":0.21,"l":0.19,"h":0.23},{"b":0.2,"t":200,"y":0.22,"l":0.2,"h":0.24},{"b":0.2,"t":220,"y":0.22,"l":0.2,"h":0.24},{"b":0.2,"t":243,"y":0.24,"l":0.22,"h":0.26}
],
"pr": [
{"b":0,"t":0,"y":0,"l":0,"h":0},{"b":0,"t":1,"y":0.5,"l":0.5,"h":0.5},{"b":0,"t":10,"y":0.58,"l":0.56,"h":0.6},{"b":0,"t":20,"y":0.65,"l":0.62,"h":0.68},{"b":0,"t":30,"y":0.68,"l":0.65,"h":0.71},{"b":0,"t":40,"y":0.71,"l":0.68,"h":0.74},{"b":0,"t":50,"y":0.75,"l":0.71,"h":0.79},{"b":0,"t":60,"y":0.79,"l":0.75,"h":0.83},{"b":0,"t":70,"y":0.83,"l":0.78,"h":0.88},{"b":0,"t":80,"y":0.87,"l":0.82,"h":0.92},{"b":0,"t":100,"y":0.95,"l":0.89,"h":1.01},{"b":0,"t":120,"y":1.04,"l":0.97,"h":1.11},{"b":0,"t":140,"y":1.13,"l":1.05,"h":1.21},{"b":0,"t":160,"y":1.22,"l":1.13,"h":1.31},{"b":0,"t":180,"y":1.32,"l":1.22,"h":1.42},{"b":0,"t":200,"y":1.41,"l":1.3,"h":1.52},{"b":0,"t":220,"y":1.5,"l":1.38,"h":1.62},{"b":0,"t":243,"y":1.63,"l":1.5,"h":1.76},
{"b":0.01,"t":0,"y":0,"l":0,"h":0},{"b":0.01,"t":1,"y":0.5,"l":0.5,"h":0.5},{"b":0.01,"t":10,"y":0.56,"l":0.54,"h":0.58},{"b":0.01,"t":20,"y":0.62,"l":0.59,"h":0.65},{"b":0.01,"t":30,"y":0.65,"l":0.62,"h":0.68},{"b":0.01,"t":40,"y":0.68,"l":0.65,"h":0.71},{"b":0.01,"t":50,"y":0.71,"l":0.67,"h":0.75},{"b":0.01,"t":60,"y":0.75,"l":0.71,"h":0.79},{"b":0.01,"t":70,"y":0.78,"l":0.74,"h":0.82},{"b":0.01,"t":80,"y":0.82,"l":0.77,"h":0.87},{"b":0.01,"t":100,"y":0.9,"l":0.85,"h":0.95},{"b":0.01,"t":120,"y":0.97,"l":0.91,"h":1.03},{"b":0.01,"t":140,"y":1.04,"l":0.97,"h":1.11},{"b":0.01,"t":160,"y":1.11,"l":1.04,"h":1.18},{"b":0.01,"t":180,"y":1.19,"l":1.11,"h":1.27},{"b":0.01,"t":200,"y":1.26,"l":1.17,"h":1.35},{"b":0.01,"t":220,"y":1.32,"l":1.23,"h":1.41},{"b":0.01,"t":243,"y":1.39,"l":1.29,"h":1.49},
{"b":0.05,"t":0,"y":0,"l":0,"h":0},{"b":0.05,"t":1,"y":0.5,"l":0.5,"h":0.5},{"b":0.05,"t":10,"y":0.53,"l":0.51,"h":0.55},{"b":0.05,"t":20,"y":0.57,"l":0.54,"h":0.6},{"b":0.05,"t":30,"y":0.59,"l":0.55,"h":0.63},{"b":0.05,"t":40,"y":0.61,"l":0.57,"h":0.65},{"b":0.05,"t":50,"y":0.62,"l":0.58,"h":0.66},{"b":0.05,"t":60,"y":0.63,"l":0.59,"h":0.67},{"b":0.05,"t":70,"y":0.63,"l":0.59,"h":0.67},{"b":0.05,"t":80,"y":0.63,"l":0.59,"h":0.67},{"b":0.05,"t":100,"y":0.63,"l":0.59,"h":0.67},{"b":0.05,"t":120,"y":0.62,"l":0.58,"h":0.66},{"b":0.05,"t":140,"y":0.62,"l":0.58,"h":0.66},{"b":0.05,"t":160,"y":0.61,"l":0.57,"h":0.65},{"b":0.05,"t":180,"y":0.61,"l":0.57,"h":0.65},{"b":0.05,"t":200,"y":0.6,"l":0.56,"h":0.64},{"b":0.05,"t":220,"y":0.6,"l":0.56,"h":0.64},{"b":0.05,"t":243,"y":0.6,"l":0.56,"h":0.64},
{"b":0.1,"t":0,"y":0,"l":0,"h":0},{"b":0.1,"t":1,"y":0.5,"l":0.5,"h":0.5},{"b":0.1,"t":10,"y":0.5,"l":0.48,"h":0.52},{"b":0.1,"t":20,"y":0.48,"l":0.45,"h":0.51},{"b":0.1,"t":30,"y":0.46,"l":0.42,"h":0.5},{"b":0.1,"t":40,"y":0.44,"l":0.4,"h":0.48},{"b":0.1,"t":50,"y":0.42,"l":0.38,"h":0.46},{"b":0.1,"t":60,"y":0.4,"l":0.36,"h":0.44},{"b":0.1,"t":70,"y":0.38,"l":0.34,"h":0.42},{"b":0.1,"t":80,"y":0.36,"l":0.32,"h":0.4},{"b":0.1,"t":100,"y":0.33,"l":0.29,"h":0.37},{"b":0.1,"t":120,"y":0.3,"l":0.26,"h":0.34},{"b":0.1,"t":140,"y":0.28,"l":0.24,"h":0.32},{"b":0.1,"t":160,"y":0.28,"l":0.24,"h":0.32},{"b":0.1,"t":180,"y":0.3,"l":0.26,"h":0.34},{"b":0.1,"t":200,"y":0.33,"l":0.29,"h":0.37},{"b":0.1,"t":220,"y":0.37,"l":0.33,"h":0.41},{"b":0.1,"t":243,"y":0.41,"l":0.37,"h":0.45},
{"b":0.2,"t":0,"y":0,"l":0,"h":0},{"b":0.2,"t":1,"y":0.5,"l":0.5,"h":0.5},{"b":0.2,"t":10,"y":0.45,"l":0.43,"h":0.47},{"b":0.2,"t":20,"y":0.32,"l":0.3,"h":0.34},{"b":0.2,"t":30,"y":0.23,"l":0.21,"h":0.25},{"b":0.2,"t":40,"y":0.17,"l":0.15,"h":0.19},{"b":0.2,"t":50,"y":0.14,"l":0.12,"h":0.16},{"b":0.2,"t":60,"y":0.12,"l":0.1,"h":0.14},{"b":0.2,"t":70,"y":0.11,"l":0.09,"h":0.13},{"b":0.2,"t":80,"y":0.1,"l":0.08,"h":0.12},{"b":0.2,"t":100,"y":0.1,"l":0.08,"h":0.12},{"b":0.2,"t":120,"y":0.1,"l":0.08,"h":0.12},{"b":0.2,"t":140,"y":0.1,"l":0.08,"h":0.12},{"b":0.2,"t":160,"y":0.1,"l":0.08,"h":0.12},{"b":0.2,"t":180,"y":0.1,"l":0.08,"h":0.12},{"b":0.2,"t":200,"y":0.1,"l":0.08,"h":0.12},{"b":0.2,"t":220,"y":0.1,"l":0.08,"h":0.12},{"b":0.2,"t":243,"y":0.1,"l":0.08,"h":0.12}
]
},
"concat": [
{
"width": 316, "height": 182,
"title": {"text": "Unprivileged Group", "offset": -1},
"data": {"name": "ue"},
"encoding": {
"x": {"field": "t", "type": "quantitative", "scale": {"domain": [-12.1, 254.1], "nice": false, "zero": false}, "axis": {"values": [0,50,100,150,200,250], "labels": false, "title": null}},
"color": {"field": "b", "type": "nominal", "scale": {"domain": [0,0.01,0.05,0.1,0.2], "range": ["#c7e9b4","#7fcdbb","#41b6c4","#2c7fb8","#253494"]}, "legend": {"labelExpr": "'β₂\u2009=\u2009' + datum.label", "legendX": -6, "legendY": 455}}
},
"layer": [
{"mark": {"type": "area", "opacity": 0.2, "clip": true}, "encoding": {"y": {"field": "l", "type": "quantitative", "scale": {"domain": [-0.02, 0.06], "nice": false, "zero": false}, "axis": {"values": [-0.02,0,0.02,0.04,0.06], "format": ".2f", "title": "Error on rejected pop."}}, "y2": {"field": "h"}}},
{"mark": {"type": "line", "strokeWidth": 2.6, "clip": true}, "encoding": {"y": {"field": "y", "type": "quantitative", "axis": {"values": [-0.02,0,0.02,0.04,0.06], "format": ".2f", "title": "Error on rejected pop."}}}}
]
},
{
"width": 317, "height": 182,
"title": {"text": "Privileged Group", "offset": 5},
"data": {"name": "pe"},
"encoding": {
"x": {"field": "t", "type": "quantitative", "scale": {"domain": [-12.1, 254.1], "nice": false, "zero": false}, "axis": {"values": [0,50,100,150,200,250], "labels": false, "title": null}},
"color": {"field": "b", "type": "nominal", "scale": {"domain": [0,0.01,0.05,0.1,0.2], "range": ["#c7e9b4","#7fcdbb","#41b6c4","#2c7fb8","#253494"]}, "legend": {"labelExpr": "'β₂\u2009=\u2009' + datum.label", "legendX": -6, "legendY": 455}}
},
"layer": [
{"mark": {"type": "area", "opacity": 0.2, "clip": true}, "encoding": {"y": {"field": "l", "type": "quantitative", "scale": {"domain": [-0.02, 0.06], "nice": false, "zero": false}, "axis": {"values": [-0.02,0,0.02,0.04,0.06], "labels": false, "title": null}}, "y2": {"field": "h"}}},
{"mark": {"type": "line", "strokeWidth": 2.6, "clip": true}, "encoding": {"y": {"field": "y", "type": "quantitative", "axis": {"values": [-0.02,0,0.02,0.04,0.06], "labels": false, "title": null}}}}
]
},
{
"width": 316, "height": 180,
"data": {"name": "ur"},
"encoding": {
"x": {"field": "t", "type": "quantitative", "scale": {"domain": [-12.1, 254.1], "nice": false, "zero": false}, "axis": {"values": [0,50,100,150,200,250], "title": null}},
"color": {"field": "b", "type": "nominal", "scale": {"domain": [0,0.01,0.05,0.1,0.2], "range": ["#c7e9b4","#7fcdbb","#41b6c4","#2c7fb8","#253494"]}, "legend": {"labelExpr": "'β₂\u2009=\u2009' + datum.label", "legendX": -6, "legendY": 455}}
},
"layer": [
{"mark": {"type": "area", "opacity": 0.2, "clip": true, "interpolate": "monotone"}, "encoding": {"y": {"field": "l", "type": "quantitative", "scale": {"domain": [-0.35, 8.2], "nice": false, "zero": false}, "axis": {"values": [0,2,4,6,8], "title": "Renyi Divergence"}}, "y2": {"field": "h"}}},
{"mark": {"type": "line", "strokeWidth": 2.6, "clip": true, "interpolate": "monotone"}, "encoding": {"y": {"field": "y", "type": "quantitative", "axis": {"values": [0,2,4,6,8], "title": "Renyi Divergence"}}}}
]
},
{
"width": 317, "height": 180,
"data": {"name": "pr"},
"encoding": {
"x": {"field": "t", "type": "quantitative", "scale": {"domain": [-12.1, 254.1], "nice": false, "zero": false}, "axis": {"values": [0,50,100,150,200,250], "title": null}},
"color": {"field": "b", "type": "nominal", "scale": {"domain": [0,0.01,0.05,0.1,0.2], "range": ["#c7e9b4","#7fcdbb","#41b6c4","#2c7fb8","#253494"]}, "legend": {"labelExpr": "'β₂\u2009=\u2009' + datum.label", "legendX": -6, "legendY": 455}}
},
"layer": [
{"mark": {"type": "area", "opacity": 0.2, "clip": true, "interpolate": "monotone"}, "encoding": {"y": {"field": "l", "type": "quantitative", "scale": {"domain": [-0.35, 8.2], "nice": false, "zero": false}, "axis": {"values": [0,2,4,6,8], "labels": false, "title": null}}, "y2": {"field": "h"}}},
{"mark": {"type": "line", "strokeWidth": 2.6, "clip": true, "interpolate": "monotone"}, "encoding": {"y": {"field": "y", "type": "quantitative", "axis": {"values": [0,2,4,6,8], "labels": false, "title": null}}}}
]
}
],
"config": {
"font": "DejaVu Sans",
"view": {"stroke": "#cccccc", "strokeWidth": 1.25},
"axis": {"domain": false, "ticks": false, "grid": true, "gridColor": "#cccccc", "gridWidth": 1, "labelFont": "DejaVu Sans", "labelFontSize": 13, "labelColor": "#262626", "labelPadding": 3, "titleFont": "DejaVu Sans", "titleFontSize": 16.3, "titleFontWeight": "normal", "titleColor": "#262626", "titlePadding": 8},
"title": {"font": "DejaVu Sans", "fontSize": 18.7, "fontWeight": "normal", "color": "#262626"},
"legend": {"orient": "none", "direction": "horizontal", "title": null, "symbolType": "stroke", "symbolSize": 1225, "symbolStrokeWidth": 3, "symbolOpacity": 1, "labelFont": "DejaVu Sans", "labelFontSize": 14, "labelColor": "#262626", "labelOffset": 10, "columnPadding": 28, "padding": 0}
}
}
